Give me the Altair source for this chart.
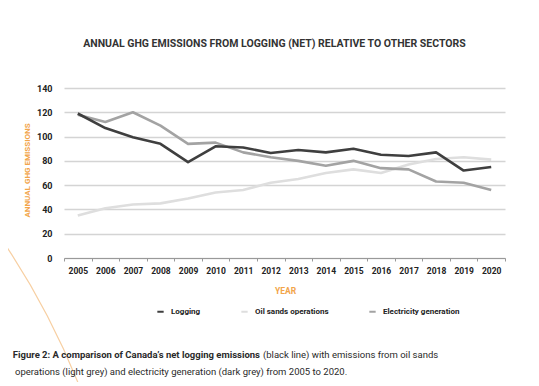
import altair as alt
import pandas as pd

years = [str(y) for y in range(2005, 2021)]
logging = [119, 107, 99.5, 94, 79, 92, 91, 86.5, 89, 87, 90, 85, 84, 87, 72, 75]
oil_sands = [35, 41, 44, 45, 49, 54, 56, 62, 65, 70, 73, 70, 77, 81.5, 83, 81]
electricity = [118, 112, 120, 109, 94, 95, 87, 83, 80, 76, 80, 74, 73, 63, 62, 56]

series_names = ["Logging", "Oil sands operations", "Electricity generation"]
series_colors = ["#3f3f3f", "#dedede", "#a3a3a3"]

rows = []
for name, vals in zip(series_names, [logging, oil_sands, electricity]):
    for y, v in zip(years, vals):
        rows.append({"year": y, "value": v, "series": name})
df = pd.DataFrame(rows)

FONT = "Roboto"
ORANGE = "#f2a54a"

base = alt.Chart(df).mark_line(strokeWidth=2.6, strokeJoin="round").encode(
    x=alt.X(
        "year:O",
        bandPosition=0.5,
        scale=alt.Scale(type="band", paddingInner=0, paddingOuter=0),
        axis=alt.Axis(
            title="YEAR",
            titleColor=ORANGE,
            titleFont=FONT,
            titleFontSize=8.5,
            titleFontWeight="bold",
            titleX=221,
            titleY=32,
            titleBaseline="middle",
            labelAngle=0,
            labelFont=FONT,
            labelFontSize=8.5,
            labelFontWeight="bold",
            labelColor="#222222",
            labelPadding=5,
            tickBand="extent",
            tickSize=3,
            tickColor="#999999",
            domainColor="#999999",
            domainWidth=1,
            grid=False,
        ),
    ),
    y=alt.Y(
        "value:Q",
        scale=alt.Scale(domain=[0, 140]),
        axis=alt.Axis(
            values=[0, 20, 40, 60, 80, 100, 120, 140],
            title="ANNUAL GHG EMISSIONS",
            titleColor=ORANGE,
            titleFont=FONT,
            titleFontSize=8,
            titleFontWeight="bold",
            titleX=-37,
            titleY=82,
            titleAngle=-90,
            titleAlign="center",
            titleBaseline="middle",
            labelFont=FONT,
            labelFontSize=9,
            labelFontWeight="bold",
            labelColor="#222222",
            labelPadding=12,
            ticks=False,
            tickSize=0,
            domain=False,
            gridColor="#d4d4d4",
            gridWidth=1.4,
        ),
    ),
    color=alt.Color(
        "series:N",
        scale=alt.Scale(domain=series_names, range=series_colors),
        legend=alt.Legend(
            title=None,
            orient="none",
            legendX=92,
            legendY=219,
            direction="horizontal",
            symbolType="stroke",
            symbolSize=40,
            symbolStrokeWidth=2,
            labelFont=FONT,
            labelFontSize=8,
            labelFontWeight="bold",
            labelColor="#222222",
            labelOffset=6,
            columnPadding=36,
        ),
    ),
)

layers = [base.transform_filter(alt.datum.series == s) for s in
          ["Oil sands operations", "Electricity generation", "Logging"]]

arc = alt.Chart(pd.DataFrame({"a": [0]})).mark_arc(
    radius=770, radius2=770, theta=0.9, theta2=1.25,
    fillOpacity=0, stroke="#f7cfa2", strokeWidth=1.2,
).encode(x=alt.value(-700), y=alt.value(583))

cap1 = pd.DataFrame({"t": ["Figure 2: A comparison of Canada\u2019s net logging emissions"]})
cap1b = pd.DataFrame({"t": ["(black line) with emissions from oil sands"]})
cap2 = pd.DataFrame({"t": ["operations (light grey) and electricity generation (dark grey) from 2005 to 2020."]})

CAP = 9.5
t1 = alt.Chart(cap1).mark_text(align="right", baseline="middle", font=FONT, fontSize=CAP,
                               fontWeight="bold", color="#2a2a2a").encode(
    text="t:N", x=alt.value(196), y=alt.value(267))
t1b = alt.Chart(cap1b).mark_text(align="left", baseline="middle", font=FONT, fontSize=CAP,
                                 color="#2a2a2a").encode(
    text="t:N", x=alt.value(199), y=alt.value(267))
t2 = alt.Chart(cap2).mark_text(align="left", baseline="middle", font=FONT, fontSize=CAP,
                               color="#2a2a2a").encode(
    text="t:N", x=alt.value(-49), y=alt.value(284))

chart = alt.layer(arc, *layers, t1, t1b, t2).properties(
    width=441,
    height=170,
    autosize=alt.AutoSizeParams(type="none"),
    padding={"left": 56, "top": 80, "right": 26, "bottom": 124},
    title=alt.TitleParams(
        "ANNUAL GHG EMISSIONS FROM LOGGING (NET) RELATIVE TO OTHER SECTORS",
        font=FONT,
        fontSize=10.5,
        fontWeight="bold",
        color="#333333",
        anchor="middle",
        frame="group",
        offset=35,
        dx=-10,
    ),
).configure_view(stroke=None)

chart.save("out.html", embed_options={"renderer": "svg", "actions": False})
